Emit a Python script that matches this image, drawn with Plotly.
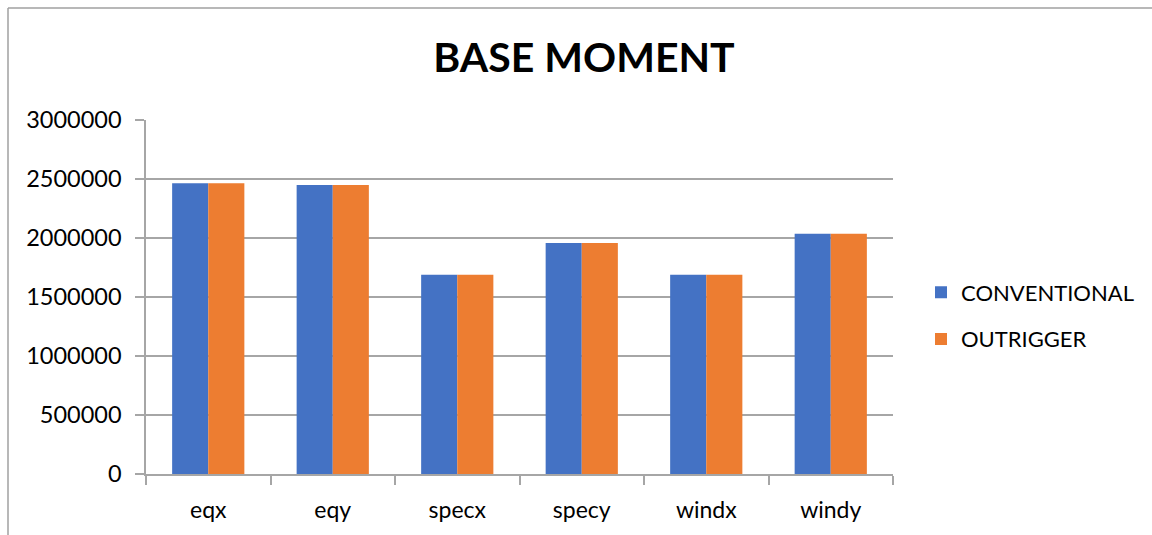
import plotly.graph_objects as go

categories = ["eqx", "eqy", "specx", "specy", "windx", "windy"]
conventional = [2465000, 2450000, 1688000, 1958000, 1688000, 2035000]
outrigger = [2465000, 2450000, 1688000, 1958000, 1688000, 2035000]
y_ticks = [0, 500000, 1000000, 1500000, 2000000, 2500000, 3000000]

W, H = 1152, 535
ML, MR, MT, MB = 146, 259, 120, 61
PW, PH = W - ML - MR, H - MT - MB

def px_x(p):
    return (p - ML) / PW

def px_y(p):
    return (H - MB - p) / PH

FONT = "Lato"
GRID = "#a6a6a6"

fig = go.Figure()
fig.add_trace(go.Bar(x=categories, y=conventional, name="CONVENTIONAL",
                     marker=dict(color="#4472C4", line=dict(width=0)), legendgroup="a"))
fig.add_trace(go.Bar(x=categories, y=outrigger, name="OUTRIGGER",
                     marker=dict(color="#ED7D31", line=dict(width=0)), legendgroup="b"))

fig.update_layout(
    width=W, height=H,
    margin=dict(l=ML, r=MR, t=MT, b=MB, autoexpand=False),
    paper_bgcolor="white", plot_bgcolor="white",
    barmode="group", bargap=0.42, bargroupgap=0,
    title=dict(text="<b>BASE MOMENT</b>", x=584 / W, xanchor="center",
               y=1 - 58 / H, yanchor="middle",
               font=dict(family=FONT, size=41, color="black")),
    font=dict(family=FONT, size=23, color="black"),
    legend=dict(x=px_x(921), y=px_y(316), xanchor="left", yanchor="middle",
                font=dict(family=FONT, size=22, color="black"),
                tracegroupgap=15, itemwidth=30, bgcolor="rgba(0,0,0,0)"),
    xaxis=dict(showline=True, linecolor=GRID, linewidth=1.5,
               ticks="outside", tickson="boundaries", ticklen=9, tickcolor=GRID,
               tickwidth=1.5, showgrid=False, ticklabelstandoff=15,
               tickfont=dict(family=FONT, size=23, color="black")),
    yaxis=dict(range=[0, 3000000], tickvals=y_ticks, tickformat="d",
               showline=True, linecolor=GRID, linewidth=1.5,
               ticks="outside", ticklen=9, tickcolor=GRID, tickwidth=1.5,
               showgrid=True, gridcolor=GRID, gridwidth=1.5, zeroline=False,
               ticklabelstandoff=9,
               tickfont=dict(family=FONT, size=23.5, color="black")),
    shapes=[
        dict(type="line", xref="paper", yref="paper",
             x0=px_x(8), x1=px_x(8), y0=px_y(8), y1=px_y(540),
             line=dict(color="#a0a0a0", width=1.5)),
        dict(type="line", xref="paper", yref="paper",
             x0=px_x(8), x1=px_x(1160), y0=px_y(8), y1=px_y(8),
             line=dict(color="#a0a0a0", width=1.5)),
    ],
)

fig.write_html("out.html", config={"displayModeBar": False},
               post_script="document.body.style.margin='0';document.body.style.overflow='hidden';")
